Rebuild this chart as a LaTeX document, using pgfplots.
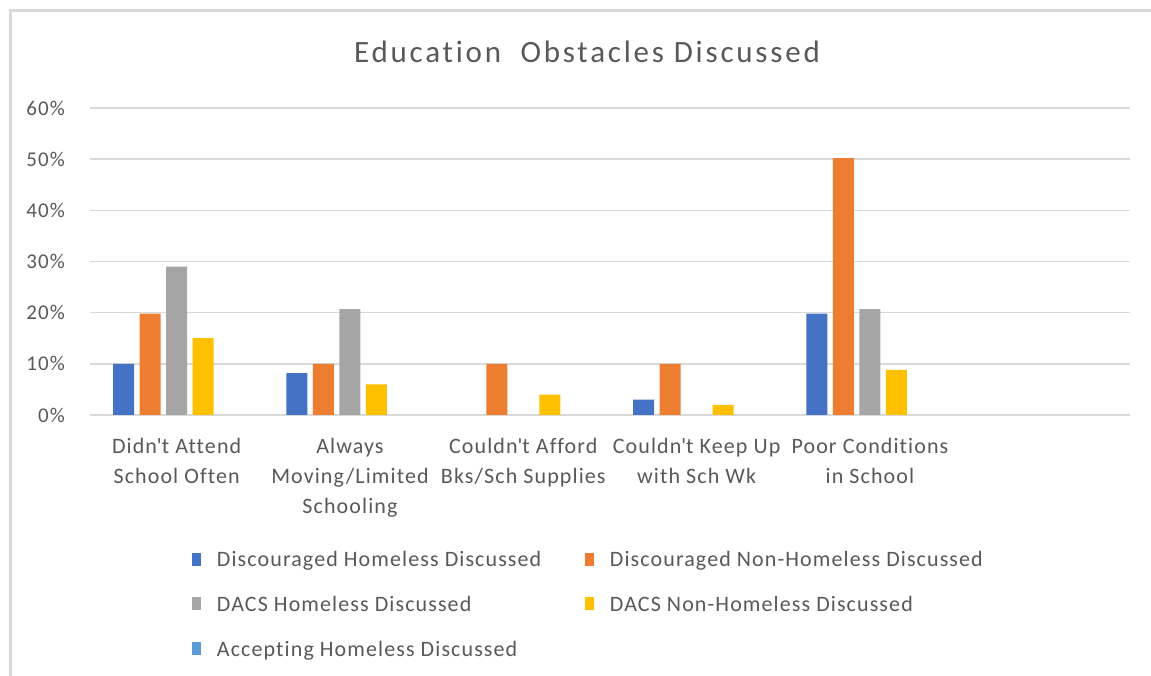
\documentclass[border=0pt]{standalone}
\usepackage{pgfplots}
\pgfplotsset{compat=1.18}
\usepackage{fontspec}
\setmainfont{Carlito}[Ligatures={NoCommon}]
\newfontfamily\labelfont{Carlito}[LetterSpace=5, Ligatures={NoCommon}]
\newfontfamily\titlefont{Carlito}[LetterSpace=9, Ligatures={NoCommon}]
\definecolor{cBlue}{HTML}{4472C4}
\definecolor{cOrange}{HTML}{ED7D31}
\definecolor{cGray}{HTML}{A5A5A5}
\definecolor{cYellow}{HTML}{FFC000}
\definecolor{cLBlue}{HTML}{5B9BD5}
\definecolor{cText}{HTML}{595959}
\definecolor{cGrid}{HTML}{D9D9D9}
\begin{document}
\begin{tikzpicture}[x=1pt,y=1pt]
\useasboundingbox (-90,-261) rectangle (1061,415);
\fill[white] (-90,-261) rectangle (1061,415);
\draw[cGrid, line width=3pt] (-79,-261) -- (-79,404) -- (1061,404);
\begin{axis}[
  scale only axis,
  width=1040pt, height=307pt,
  ymin=0, ymax=60,
  xmin=-0.5, xmax=5.5,
  ytick={0,10,...,60},
  yticklabel={\pgfmathprintnumber{\tick}\%},
  /pgf/number format/assume math mode=true,
  xtick={0,1,2,3,4,5},
  xticklabels={{Didn\textquotesingle t Attend\\School Often},{Always\\Moving/Limited\\Schooling},{Couldn\textquotesingle t Afford\\Bks/Sch Supplies},{Couldn\textquotesingle t Keep Up\\with Sch Wk},{Poor Conditions\\in School},{}},
  ymajorgrids,
  grid style={cGrid, line width=1.5pt},
  axis line style={draw=none},
  major tick length=0pt,
  yticklabel style={font=\labelfont\fontsize{21}{24}\selectfont, text=cText, anchor=east, inner sep=0pt, xshift=-25pt},
  xticklabel style={font=\labelfont\fontsize{22}{30}\selectfont, text=cText, anchor=north, inner sep=0pt, yshift=-23pt, align=center},
  ybar,
  bar width=21pt,
  clip=false,
  legend columns=2,
  legend cell align=left,
  legend image code/.code={\fill[#1] (0pt,-6pt) rectangle (9pt,7pt); \path (23pt,0pt);},
  legend style={draw=none, fill=none, at={(0.095,-0.43)}, anchor=north west, font=\labelfont\fontsize{22}{26}\selectfont, text=cText, row sep=24pt},
]
\addplot[draw=none, fill=cBlue, bar shift=-53pt] coordinates {(0,10) (1,8.2) (3,3) (4,19.8)};
\addlegendentry{\makebox[366pt][l]{Discouraged Homeless Discussed}}
\addplot[draw=none, fill=cOrange, bar shift=-26.5pt] coordinates {(0,19.8) (1,10) (2,10) (3,10) (4,50.2)};
\addlegendentry{Discouraged Non-Homeless Discussed}
\addplot[draw=none, fill=cGray, bar shift=0pt] coordinates {(0,29) (1,20.7) (4,20.7)};
\addlegendentry{\makebox[366pt][l]{DACS Homeless Discussed}}
\addplot[draw=none, fill=cYellow, bar shift=26.5pt] coordinates {(0,15) (1,6) (2,4) (3,2) (4,8.8)};
\addlegendentry{DACS Non-Homeless Discussed}
\addlegendimage{draw=none, fill=cLBlue}
\addlegendentry{\makebox[366pt][l]{Accepting Homeless Discussed}}
\end{axis}
\node[text=cText, font=\titlefont\fontsize{31}{36}\selectfont] at (497,363) {Education\ \ Obstacles Discussed};
\end{tikzpicture}
\end{document}
